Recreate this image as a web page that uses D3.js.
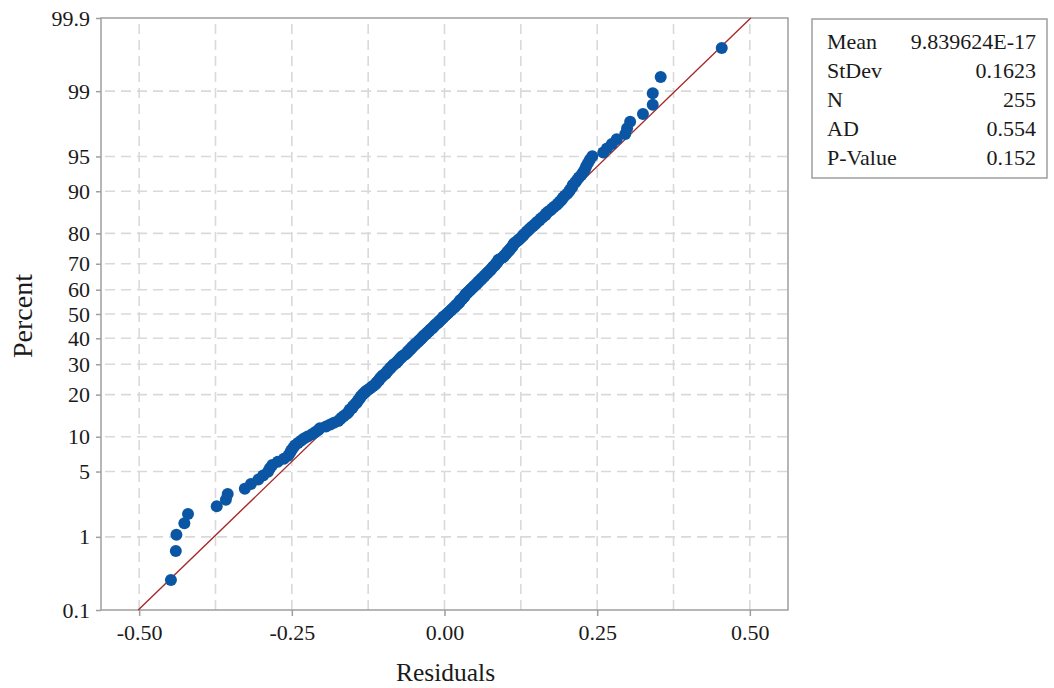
<!DOCTYPE html>
<html>
<head>
<meta charset="utf-8">
<script src="https://cdn.jsdelivr.net/npm/d3@7"></script>
<style>
  html, body { margin: 0; padding: 0; background: #ffffff; }
  svg { display: block; }
  text { font-family: "Liberation Serif", "Times New Roman", serif; fill: #1a1a1a; }
</style>
</head>
<body>
<svg id="chart" width="1054" height="688"></svg>
<script>
// ---------------- data ----------------
// Sorted residuals (N = 255)
const residuals = [
  -0.448, -0.439, -0.440, -0.426, -0.420, -0.373, -0.358, -0.355, -0.327, -0.317,
  -0.305, -0.297, -0.289, -0.286, -0.282, -0.273, -0.263, -0.256, -0.253, -0.251,
  -0.248, -0.245, -0.240, -0.235, -0.230, -0.224, -0.217, -0.212, -0.207, -0.204,
  -0.194, -0.187, -0.181, -0.174, -0.171, -0.168, -0.165, -0.161, -0.158, -0.156,
  -0.155, -0.151, -0.150, -0.148, -0.145, -0.143, -0.142, -0.140, -0.138, -0.137,
  -0.135, -0.133, -0.130, -0.129, -0.125, -0.122, -0.120, -0.117, -0.114, -0.112,
  -0.111, -0.109, -0.107, -0.106, -0.104, -0.102, -0.101, -0.097, -0.096, -0.094,
  -0.093, -0.091, -0.089, -0.088, -0.086, -0.084, -0.083, -0.079, -0.078, -0.076,
  -0.075, -0.073, -0.071, -0.070, -0.068, -0.065, -0.063, -0.061, -0.060, -0.058,
  -0.056, -0.055, -0.053, -0.052, -0.050, -0.048, -0.047, -0.045, -0.043, -0.042,
  -0.040, -0.038, -0.037, -0.035, -0.034, -0.032, -0.030, -0.029, -0.027, -0.025,
  -0.024, -0.022, -0.020, -0.019, -0.017, -0.016, -0.014, -0.012, -0.010, -0.009,
  -0.007, -0.006, -0.004, -0.002, -0.002, 0.001, 0.002, 0.004, 0.006, 0.007,
  0.009, 0.011, 0.012, 0.014, 0.016, 0.017, 0.019, 0.020, 0.022, 0.024,
  0.025, 0.025, 0.027, 0.029, 0.030, 0.032, 0.033, 0.034, 0.035, 0.037,
  0.038, 0.040, 0.042, 0.043, 0.045, 0.047, 0.048, 0.050, 0.052, 0.053,
  0.055, 0.056, 0.058, 0.060, 0.061, 0.063, 0.065, 0.066, 0.068, 0.070,
  0.071, 0.073, 0.075, 0.076, 0.078, 0.079, 0.081, 0.083, 0.084, 0.086,
  0.087, 0.088, 0.089, 0.093, 0.096, 0.097, 0.099, 0.101, 0.102, 0.104,
  0.106, 0.107, 0.109, 0.111, 0.112, 0.113, 0.114, 0.117, 0.120, 0.122,
  0.124, 0.127, 0.129, 0.130, 0.133, 0.135, 0.137, 0.140, 0.142, 0.145,
  0.148, 0.150, 0.153, 0.156, 0.158, 0.161, 0.165, 0.166, 0.169, 0.173,
  0.176, 0.179, 0.183, 0.186, 0.189, 0.192, 0.194, 0.197, 0.201, 0.204,
  0.206, 0.209, 0.210, 0.214, 0.217, 0.220, 0.224, 0.227, 0.230, 0.232,
  0.235, 0.238, 0.242, 0.260, 0.266, 0.274, 0.282, 0.296, 0.299, 0.304,
  0.325, 0.341, 0.341, 0.354, 0.454
];

const percentTicks = [0.1, 1, 5, 10, 20, 30, 40, 50, 60, 70, 80, 90, 95, 99, 99.9];
const residualTicks = [-0.50, -0.25, 0.00, 0.25, 0.50];
const residualGrid = [-0.5, -0.375, -0.25, -0.125, 0, 0.125, 0.25, 0.375, 0.5];

const statLabels = ["Mean", "StDev", "N", "AD", "P-Value"];
const statValues = ["9.839624E-17", "0.1623", "255", "0.554", "0.152"];
const fitMean = 9.839624e-17;
const fitStDev = 0.1623;

// ---------------- helpers ----------------
// inverse standard normal CDF (Acklam)
function normInv(p) {
  const a = [-3.969683028665376e+01, 2.209460984245205e+02, -2.759285104469687e+02,
             1.383577518672690e+02, -3.066479806614716e+01, 2.506628277459239e+00];
  const b = [-5.447609879822406e+01, 1.615858368580409e+02, -1.556989798598866e+02,
             6.680131188771972e+01, -1.328068155288572e+01];
  const c = [-7.784894002430293e-03, -3.223964580411365e-01, -2.400758277161838e+00,
             -2.549732539343734e+00, 4.374664141464968e+00, 2.938163982698783e+00];
  const d = [7.784695709041462e-03, 3.224671290700398e-01, 2.445134137142996e+00,
             3.754408661907416e+00];
  const pl = 0.02425, ph = 1 - pl;
  let q, r;
  if (p < pl) {
    q = Math.sqrt(-2 * Math.log(p));
    return (((((c[0]*q+c[1])*q+c[2])*q+c[3])*q+c[4])*q+c[5]) /
           ((((d[0]*q+d[1])*q+d[2])*q+d[3])*q+1);
  } else if (p <= ph) {
    q = p - 0.5; r = q * q;
    return (((((a[0]*r+a[1])*r+a[2])*r+a[3])*r+a[4])*r+a[5])*q /
           (((((b[0]*r+b[1])*r+b[2])*r+b[3])*r+b[4])*r+1);
  } else {
    q = Math.sqrt(-2 * Math.log(1 - p));
    return -(((((c[0]*q+c[1])*q+c[2])*q+c[3])*q+c[4])*q+c[5]) /
            ((((d[0]*q+d[1])*q+d[2])*q+d[3])*q+1);
  }
}

// ---------------- layout ----------------
const L = 101, R = 788, T = 18, B = 610;
const svg = d3.select("#chart");

const x = d3.scaleLinear().domain([-0.5625, 0.5625]).range([L, R]);
const zScale = d3.scaleLinear().domain([normInv(0.001), normInv(0.999)]).range([B, T]);
const yP = p => zScale(normInv(p / 100));

// grid
const grid = svg.append("g").attr("stroke", "#d9d9d9").attr("stroke-width", 1.6)
  .attr("stroke-dasharray", "10,6").attr("fill", "none");
grid.selectAll("line.v").data(residualGrid).join("line")
  .attr("x1", d => x(d)).attr("x2", d => x(d))
  .attr("y1", T + 6).attr("y2", B);
grid.selectAll("line.h").data(percentTicks.filter(p => p > 0.1 && p < 99.9)).join("line")
  .attr("x1", L + 4).attr("x2", R)
  .attr("y1", d => yP(d)).attr("y2", d => yP(d));

// frame
svg.append("rect").attr("x", L).attr("y", T).attr("width", R - L).attr("height", B - T)
  .attr("fill", "none").attr("stroke", "#9e9e9e").attr("stroke-width", 1.5);

// axes
const yAxis = d3.axisLeft(zScale)
  .tickValues(percentTicks.map(p => normInv(p / 100)))
  .tickFormat((d, i) => String(percentTicks[i]))
  .tickSize(5).tickPadding(6);
const gy = svg.append("g").attr("transform", `translate(${L},0)`).call(yAxis);
gy.attr("font-family", null).attr("font-size", null);
gy.select(".domain").remove();
gy.selectAll(".tick line").attr("stroke", "#9e9e9e").attr("stroke-width", 1.5);
gy.selectAll(".tick text").attr("font-size", 22).attr("font-family", "Liberation Serif").attr("fill", "#1a1a1a");

const xAxis = d3.axisBottom(x).tickValues(residualTicks)
  .tickFormat(d => d3.format(".2f")(d).replace("\u2212", "-"))
  .tickSize(6).tickPadding(8);
const gx = svg.append("g").attr("transform", `translate(0,${B})`).call(xAxis);
gx.attr("font-family", null).attr("font-size", null);
gx.select(".domain").remove();
gx.selectAll(".tick line").attr("stroke", "#9e9e9e").attr("stroke-width", 1.5);
gx.selectAll(".tick text").attr("font-size", 22).attr("font-family", "Liberation Serif").attr("fill", "#1a1a1a");

// fitted line
const zLo = normInv(0.001), zHi = normInv(0.999);
svg.append("line")
  .attr("x1", x(fitMean + fitStDev * zLo)).attr("y1", zScale(zLo))
  .attr("x2", x(fitMean + fitStDev * zHi)).attr("y2", zScale(zHi))
  .attr("stroke", "#a52a2a").attr("stroke-width", 1.4);

// points (median-rank plotting positions)
const n = residuals.length;
const pts = residuals.slice().sort((a, b) => a - b)
  .map((r, i) => ({ r, z: normInv((i + 1 - 0.3) / (n + 0.4)) }));
svg.append("g").selectAll("circle").data(pts).join("circle")
  .attr("cx", d => x(d.r)).attr("cy", d => zScale(d.z)).attr("r", 6)
  .attr("fill", "#0b56a4");

// axis titles
svg.append("text").attr("x", (L + R) / 2 + 1).attr("y", 681)
  .attr("text-anchor", "middle").attr("font-size", 25.5).text("Residuals");
svg.append("text").attr("transform", `translate(32,${(T + B) / 2 + 2}) rotate(-90)`)
  .attr("text-anchor", "middle").attr("font-size", 28).text("Percent");

// stats box
const lg = svg.append("g");
lg.append("rect").attr("x", 812).attr("y", 19).attr("width", 235).attr("height", 159)
  .attr("fill", "#fff").attr("stroke", "#9e9e9e").attr("stroke-width", 1.5);
statLabels.forEach((s, i) => {
  lg.append("text").attr("x", 827).attr("y", 49 + i * 29).attr("font-size", 22).text(s);
  lg.append("text").attr("x", 1036).attr("y", 49 + i * 29).attr("font-size", 22)
    .attr("text-anchor", "end").text(statValues[i]);
});
</script>
</body>
</html>
